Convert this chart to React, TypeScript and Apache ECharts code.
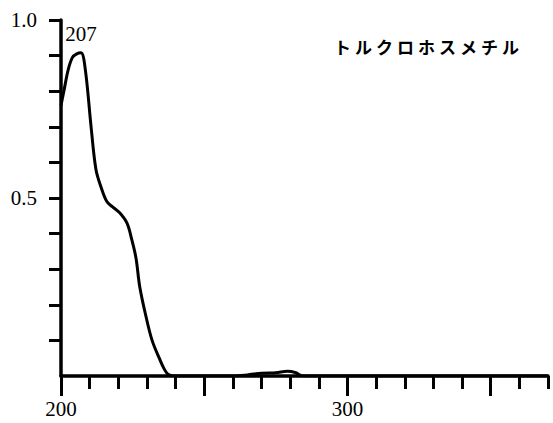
import { useEffect, useRef } from "react";
import * as echarts from "echarts";

// UV absorption spectrum of tolclofos-methyl
const TITLE = "トルクロホスメチル";

const WAVELENGTH = [
  200, 201, 202.5, 204, 205.5, 207, 208.5, 210.5, 212.2, 214, 216, 218, 220.3,
  223, 224.8, 226.2, 227.5, 229.7, 231.8, 234.3, 236, 237.5, 240, 260, 265, 270,
  275, 279, 282, 284, 290, 370,
];
const ABSORBANCE = [
  0.76, 0.8, 0.86, 0.895, 0.905, 0.908, 0.86, 0.7, 0.58, 0.53, 0.49, 0.475,
  0.46, 0.43, 0.38, 0.33, 0.25, 0.166, 0.1, 0.05, 0.02, 0.004, 0, 0, 0.003,
  0.008, 0.009, 0.013, 0.009, 0.001, 0, 0,
];

const PEAK_NM = 207;

const X_MINOR_STEP = 10;
const X_MAJOR_TICKS = [200, 250, 300, 350];
const X_LABELS = [200, 300];
const Y_TICKS = [0.1, 0.2, 0.3, 0.4, 0.5, 0.6, 0.7, 0.8, 0.9, 1.0];
const Y_LABELS = [0.5, 1.0];

const SERIF = "'Liberation Serif', 'DejaVu Serif', serif";
const INK = "#000";

export default function App() {
  const ref = useRef<HTMLDivElement>(null);

  useEffect(() => {
    if (!ref.current) return;
    const chart = echarts.init(ref.current, null, { renderer: "svg" });
    const points = WAVELENGTH.map((w, i) => [w, ABSORBANCE[i]]);
    const peakValue = ABSORBANCE[WAVELENGTH.indexOf(PEAK_NM)];

    chart.setOption({
      animation: false,
      backgroundColor: "#fff",
      grid: { left: 61, right: 5, top: 20, bottom: 47 },
      xAxis: [
        {
          type: "value",
          min: 200,
          max: 370,
          interval: X_MINOR_STEP,
          axisLine: { lineStyle: { color: INK, width: 3.5 } },
          axisTick: { length: 13, lineStyle: { color: INK, width: 3 } },
          axisLabel: { show: false },
          splitLine: { show: false },
        },
        {
          type: "value",
          min: 200,
          max: 370,
          position: "bottom",
          axisLine: { show: false },
          axisTick: {
            customValues: X_MAJOR_TICKS,
            length: 20,
            lineStyle: { color: INK, width: 3 },
          },
          axisLabel: {
            customValues: X_LABELS,
            margin: 22,
            color: INK,
            fontFamily: SERIF,
            fontSize: 21,
          },
          splitLine: { show: false },
        },
      ],
      yAxis: {
        type: "value",
        min: 0,
        max: 1,
        interval: 0.1,
        axisLine: { show: true, lineStyle: { color: INK, width: 3.5 } },
        axisTick: {
          customValues: Y_TICKS,
          length: 12,
          lineStyle: { color: INK, width: 3 },
        },
        axisLabel: {
          customValues: Y_LABELS,
          margin: 24,
          color: INK,
          fontFamily: SERIF,
          fontSize: 21,
          formatter: (v: number) => v.toFixed(1),
        },
        splitLine: { show: false },
      },
      graphic: [
        {
          type: "text",
          left: 334,
          top: 38,
          style: {
            text: TITLE,
            fill: INK,
            font: "bold 17px 'Noto Sans CJK JP', sans-serif",
          },
        },
      ],
      series: [
        {
          type: "line",
          xAxisIndex: 0,
          data: points,
          smooth: 0.35,
          symbol: "none",
          lineStyle: { color: INK, width: 3 },
          markPoint: {
            symbol: "circle",
            symbolSize: 0,
            data: [{ coord: [PEAK_NM, peakValue], value: PEAK_NM }],
            label: {
              show: true,
              position: "top",
              distance: 8,
              formatter: "{c}",
              color: INK,
              fontFamily: SERIF,
              fontSize: 21,
            },
          },
        },
      ],
    });

    // widen the katakana title's letter spacing
    ref.current.querySelectorAll("text").forEach((t) => {
      if (t.textContent === TITLE) t.setAttribute("letter-spacing", "4");
    });

    return () => chart.dispose();
  }, []);

  return (
    <div
      ref={ref}
      style={{ position: "fixed", left: 0, top: 0, width: 553, height: 423 }}
    />
  );
}
